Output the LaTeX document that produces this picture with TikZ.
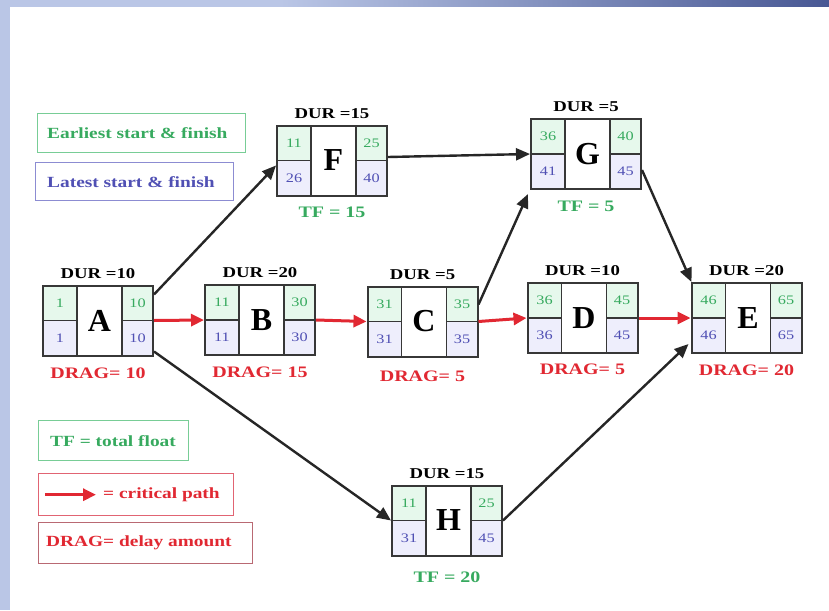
\documentclass[tikz,border=0pt]{standalone}
\usepackage{fontspec}
\setmainfont{Liberation Serif}
\newfontfamily\widefont[FakeStretch=1.25]{Liberation Serif}
\usetikzlibrary{arrows.meta,calc}

\definecolor{tfgreen}{RGB}{55,170,95}
\definecolor{lsblue}{RGB}{80,80,180}
\definecolor{critred}{RGB}{225,40,50}
\definecolor{boxline}{RGB}{55,55,55}
\definecolor{greencell}{RGB}{230,248,236}
\definecolor{bluecell}{RGB}{238,238,252}
\definecolor{bandlight}{RGB}{186,198,230}
\definecolor{banddark}{RGB}{72,88,148}
\definecolor{greenframe}{RGB}{120,205,150}
\definecolor{blueframe}{RGB}{140,140,210}
\definecolor{redframe}{RGB}{225,100,115}
\definecolor{dragframe}{RGB}{185,105,115}

\tikzset{
  actbox/.style={draw=boxline, line width=2pt, minimum width=110pt,
    minimum height=70pt, inner sep=0pt},
  divider/.style={draw=boxline, line width=1.8pt},
  esnum/.style={text=tfgreen, inner sep=0pt, font=\widefont\fontsize{13}{13}\selectfont},
  lsnum/.style={text=lsblue, inner sep=0pt, font=\widefont\fontsize{13}{13}\selectfont},
  letter/.style={inner sep=0pt, font=\fontsize{32}{32}\selectfont\bfseries},
  durlabel/.style={inner sep=0pt, font=\widefont\fontsize{15}{15}\selectfont\bfseries},
  draglabel/.style={text=critred, inner sep=0pt, font=\widefont\fontsize{16}{16}\selectfont\bfseries},
  tflabel/.style={text=tfgreen, inner sep=0pt, font=\widefont\fontsize{16}{16}\selectfont\bfseries},
  legendbox/.style={line width=1.4pt, inner sep=0pt, anchor=north west},
  legendtext/.style={inner sep=0pt, anchor=west, font=\widefont\fontsize{15.5}{15.5}\selectfont\bfseries},
  link/.style={draw=black!85, line width=2.4pt, -{Triangle[length=14pt,width=12pt]}},
  critlink/.style={draw=critred, line width=3pt, -{Triangle[length=13pt,width=12pt]}},
}

% One activity: name, centre, letter, ES, EF, LS, LF, duration
\newcommand{\activity}[8]{%
  \begin{scope}[shift={(#2)}]
    \fill[greencell] (-55,-35) rectangle (-21,0);
    \fill[greencell] (24,-35) rectangle (55,0);
    \fill[bluecell] (-55,0) rectangle (-21,35);
    \fill[bluecell] (24,0) rectangle (55,35);
    \draw[divider] (-21,-35) -- (-21,35);
    \draw[divider] (24,-35) -- (24,35);
    \draw[divider] (-55,0) -- (-21,0);
    \draw[divider] (24,0) -- (55,0);
    \node[actbox] (#1) at (0,0) {};
    \node[letter] (#1-name) at (1.5,0) {#3};
    \node[esnum] (#1-es) at (-38,-17.5) {#4};
    \node[esnum] (#1-ef) at (39.5,-17.5) {#5};
    \node[lsnum] (#1-ls) at (-38,17.5) {#6};
    \node[lsnum] (#1-lf) at (39.5,17.5) {#7};
    \node[durlabel] (#1-dur) at (0,-47) {DUR =#8};
  \end{scope}%
}

\begin{document}
\begin{tikzpicture}[x=1pt, y=-1pt]
  \useasboundingbox (0,0) rectangle (829,610);
  \fill[white] (0,0) rectangle (829,610);

  % slide frame: light band on the left, graded band along the top
  \fill[bandlight] (0,0) rectangle (10,610);
  \fill[bandlight] (0,0) rectangle (280,7);
  \shade[left color=bandlight, right color=banddark] (280,0) rectangle (829,7);

  % activities
  \activity{A}{98,320.5}{A}{1}{10}{1}{10}{10}
  \activity{B}{260,320}{B}{11}{30}{11}{30}{20}
  \activity{C}{422.5,321.5}{C}{31}{35}{31}{35}{5}
  \activity{D}{582.5,318}{D}{36}{45}{36}{45}{10}
  \activity{E}{746.5,318}{E}{46}{65}{46}{65}{20}
  \activity{F}{332,160.5}{F}{11}{25}{26}{40}{15}
  \activity{G}{586,154}{G}{36}{40}{41}{45}{5}
  \activity{H}{447,520.5}{H}{11}{25}{31}{45}{15}

  % drag and float figures
  \node[draglabel] (A-drag) at (98,373) {DRAG= 10};
  \node[draglabel] (B-drag) at (260,372) {DRAG= 15};
  \node[draglabel] (C-drag) at (422.5,376) {DRAG= 5};
  \node[draglabel] (D-drag) at (582.5,369) {DRAG= 5};
  \node[draglabel] (E-drag) at (746.5,370) {DRAG= 20};
  \node[tflabel] (F-tf) at (332,212) {TF = 15};
  \node[tflabel] (G-tf) at (586,206) {TF = 5};
  \node[tflabel] (H-tf) at (447,577) {TF = 20};

  % precedence links
  \draw[link] ([yshift=-10pt]A.north east) -- ([yshift=-5pt]F.west);
  \draw[link] ([yshift=5pt]A.south east) -- (H.west);
  \draw[link] ([yshift=3.5pt]F.east) -- (G.west);
  \draw[link] ([yshift=-19pt]C.north east) -- ([shift={(-2pt,-4pt)}]G.south west);
  \draw[link] ([yshift=-16pt]G.east) -- ([xshift=1pt]E.north west);
  \draw[link] (H.east) -- ([shift={(-2pt,10pt)}]E.south west);

  % critical path
  \draw[critlink] (A.east) -- (B.west);
  \draw[critlink] (B.east) -- (C.west);
  \draw[critlink] (C.east) -- (D.west);
  \draw[critlink] (D.east) -- (E.west);

  % legend
  \node[legendbox, draw=greenframe, minimum width=208pt, minimum height=39pt] (lg-es) at (37,113) {};
  \node[legendtext, text=tfgreen] (lg-es-t) at ([xshift=10pt]lg-es.west) {Earliest start \& finish};
  \node[legendbox, draw=blueframe, minimum width=198pt, minimum height=38pt] (lg-ls) at (35,162) {};
  \node[legendtext, text=lsblue] (lg-ls-t) at ([xshift=12pt]lg-ls.west) {Latest start \& finish};
  \node[legendbox, draw=greenframe, minimum width=150pt, minimum height=40pt] (lg-tf) at (38,420) {};
  \node[legendtext, text=tfgreen] (lg-tf-t) at ([xshift=12pt]lg-tf.west) {TF = total float};
  \node[legendbox, draw=redframe, minimum width=195pt, minimum height=42pt] (lg-cp) at (38,473) {};
  \coordinate (lg-cp-a) at ([xshift=7pt]lg-cp.west);
  \coordinate (lg-cp-b) at ([xshift=58pt]lg-cp.west);
  \draw[critlink] (lg-cp-a) -- (lg-cp-b);
  \node[legendtext, text=critred] (lg-cp-t) at ([xshift=7pt]lg-cp-b) {= critical path};
  \node[legendbox, draw=dragframe, minimum width=214pt, minimum height=41pt] (lg-dr) at (38,522) {};
  \node[legendtext, text=critred] (lg-dr-t) at ([xshift=8pt]lg-dr.west) {DRAG= delay amount};
\end{tikzpicture}
\end{document}
